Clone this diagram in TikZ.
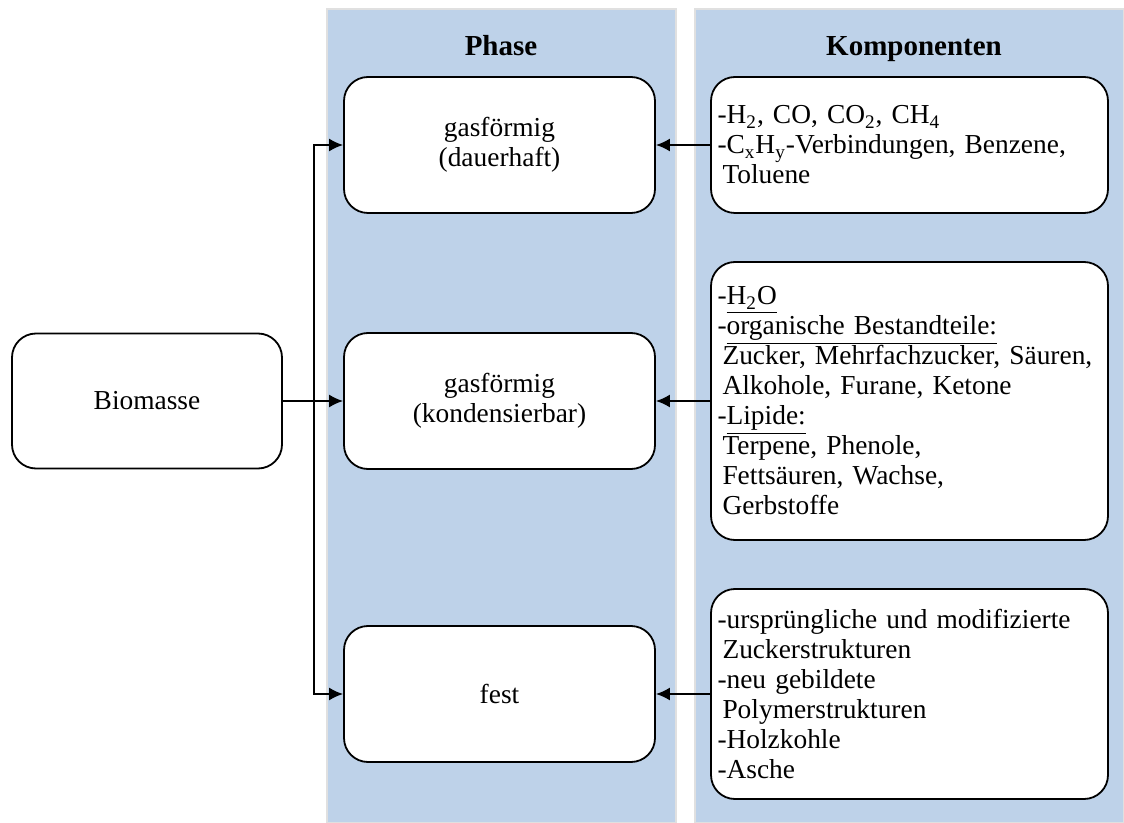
\documentclass[tikz,border=0pt]{standalone}
\usepackage{fontspec}
\setmainfont{Liberation Serif}
\usepackage{tikz}
\usetikzlibrary{arrows.meta, positioning}

\definecolor{panelblue}{RGB}{190,210,233}
\newcommand{\ind}{\hspace*{2.5pt}}

\begin{document}
\begin{tikzpicture}[x=0.5pt, y=-0.5pt]
    \tikzstyle{panel} = [draw=black!12, fill=panelblue, line width=0.6pt]
    \tikzstyle{head} = [anchor=base, font=\fontsize{14.5pt}{16pt}\selectfont\bfseries]
    \tikzstyle{box} = [rectangle, draw, fill=white, rounded corners=12pt, line width=0.9pt, align=center, inner sep=0pt, font=\fontsize{13.7pt}{15pt}\selectfont]
    \tikzstyle{phasebox} = [box, minimum width=155.5pt, minimum height=68pt]
    \tikzstyle{compbox} = [box, align=left, text width=192pt, minimum width=198.5pt]
    \tikzstyle{line} = [draw, line width=0.9pt, -{Latex[length=7pt,width=6.5pt]}]

    \useasboundingbox (0,0) rectangle (1124,823);

    % background columns
    \path [panel] (327,9) rectangle (676,823);
    \path [panel] (695,9) rectangle (1124,823);
    \node [head] (phasehead) at (501,56) {Phase};
    \node [head] (comphead) at (914,56) {Komponenten};

    \node [box, minimum width=135pt, minimum height=67.5pt] (bio) at (147,401) {Biomasse};

    \node [phasebox] (gas) at (499.5,145) {gasförmig\\(dauerhaft)};
    \node [phasebox] (kond) at (499.5,401) {gasförmig\\(kondensierbar)};
    \node [phasebox] (fest) at (499.5,694) {fest};

    \node [compbox, minimum height=68pt] (gascomp) at (909.5,145)
        {-H\textsubscript{2}, CO, CO\textsubscript{2}, CH\textsubscript{4}\\
         -C\textsubscript{x}H\textsubscript{y}-Verbindungen, Benzene,\\
         \ind Toluene};
    \node [compbox, minimum height=139pt] (kondcomp) at (909.5,401)
        {-\underline{H\textsubscript{2}O}\\
         -\underline{organische Bestandteile:}\\
         \ind Zucker, Mehrfachzucker, Säuren,\\
         \ind Alkohole, Furane, Ketone\\
         -\underline{Lipide:}\\
         \ind Terpene, Phenole,\\
         \ind Fettsäuren, Wachse,\\
         \ind Gerbstoffe};
    \node [compbox, minimum height=105pt] (festcomp) at (909.5,694)
        {-ursprüngliche und modifizierte\\
         \ind Zuckerstrukturen\\
         -neu gebildete\\
         \ind Polymerstrukturen\\
         -Holzkohle\\
         -Asche};

    \coordinate (split) at (314,401);

    \path [line] (bio.east) -- (kond.west);
    \path [line] (split) |- (gas.west);
    \path [line] (split) |- (fest.west);
    \path [line] (gascomp.west) -- (gas.east);
    \path [line] (kondcomp.west) -- (kond.east);
    \path [line] (festcomp.west) -- (fest.east);
\end{tikzpicture}
\end{document}
